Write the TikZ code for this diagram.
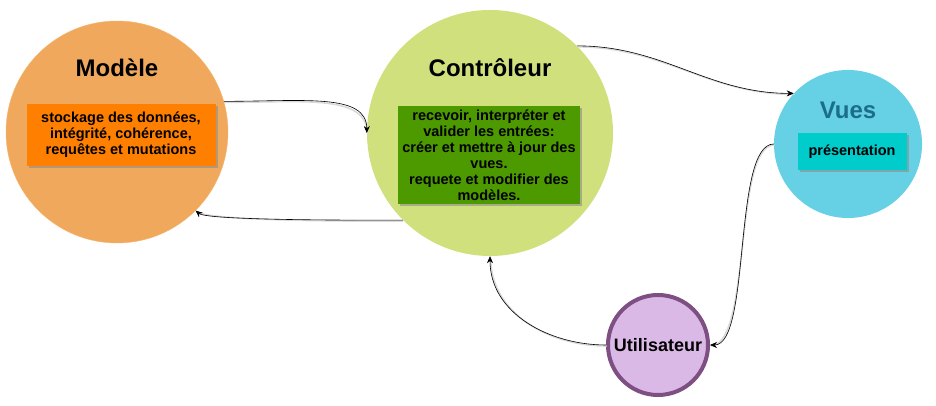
\documentclass[tikz,border=0pt]{standalone}
\usepackage{fontspec}
\setmainfont{Liberation Sans}
\usetikzlibrary{positioning, arrows.meta, shadows}

\definecolor{modfill}{HTML}{F0A85C}
\definecolor{modline}{HTML}{F6B56E}
\definecolor{modbox}{HTML}{FF8000}
\definecolor{ctrlfill}{HTML}{CFE07C}
\definecolor{ctrlbox}{HTML}{4D9900}
\definecolor{vuesfill}{HTML}{66D0E4}
\definecolor{vuesbox}{HTML}{00CCCC}
\definecolor{vuestext}{HTML}{1A6E8C}
\definecolor{utilfill}{HTML}{DBB9E6}
\definecolor{utilline}{HTML}{7E4F82}

\begin{document}
\begin{tikzpicture}
    [
        x=1pt, y=1pt, on grid,
        circle_node/.style={circle, inner sep=0pt},
        title_node/.style={font=\fontsize{24}{28}\selectfont\bfseries},
        text_box/.style={rectangle, align=center, inner sep=0pt, font=\fontsize{14.5}{16}\selectfont\bfseries, drop shadow={shadow xshift=2pt, shadow yshift=-2pt, fill=black!45, opacity=0.6}},
        link/.style={-{Stealth[length=7pt, width=6pt]}, line width=0.6pt, color=black, preaction={draw=black!15, line width=1.6pt, -, transform canvas={shift={(0.6pt,-1pt)}}}},
    ]
        \useasboundingbox (0,0) rectangle (936,406) ;
        \node[circle_node, fill=modfill, draw=modline, minimum size=222pt] (mod) at (117,274) {} ;
        \node[circle_node, fill=ctrlfill, minimum size=246pt] (ctrl) at (490,273) {} ;
        \node[circle_node, fill=vuesfill, minimum size=148pt] (vues) at (848,262) {} ;
        \node[circle_node, fill=utilfill, draw=utilline, line width=4pt, minimum size=100pt, font=\fontsize{18}{20}\selectfont\bfseries] (util) at (658,61) {Utilisateur} ;
        \node[title_node] (mod_title) [above=64pt of mod] {Modèle} ;
        \node[title_node] (ctrl_title) [above=65pt of ctrl] {Contrôleur} ;
        \node[title_node, text=vuestext] (vues_title) [above=34pt of vues] {Vues} ;
        \node[text_box, fill=modbox, minimum width=189pt, minimum height=62pt] (mod_box) [below right=3pt and 4pt of mod] {stockage des données,\\intégrité, cohérence,\\requêtes et mutations} ;
        \node[text_box, fill=ctrlbox, minimum width=182pt, minimum height=98pt] (ctrl_box) [below left=22pt and 1pt of ctrl] {recevoir, interpréter et\\valider les entrées:\\créer et mettre à jour des\\vues.\\requete et modifier des\\modèles.} ;
        \node[text_box, fill=vuesbox, minimum width=109pt, minimum height=37pt] (vues_box) [below right=8pt and 4pt of vues] {présentation} ;
        \draw[link] (mod.16) to[out=0, in=90, out looseness=1.4, in looseness=0.7] (ctrl.180) ;
        \draw[link] (ctrl.225) to[out=180, in=-40, looseness=0.2] (mod.-45) ;
        \draw[link] (ctrl.45) to[out=0, in=180] (vues.137) ;
        \draw[link] (vues.180) to[out=180, in=0, looseness=0.5] (util.east) ;
        \draw[link] (util.west) to[out=180, in=-90] (ctrl.-90) ;
    \end{tikzpicture}
\end{document}
